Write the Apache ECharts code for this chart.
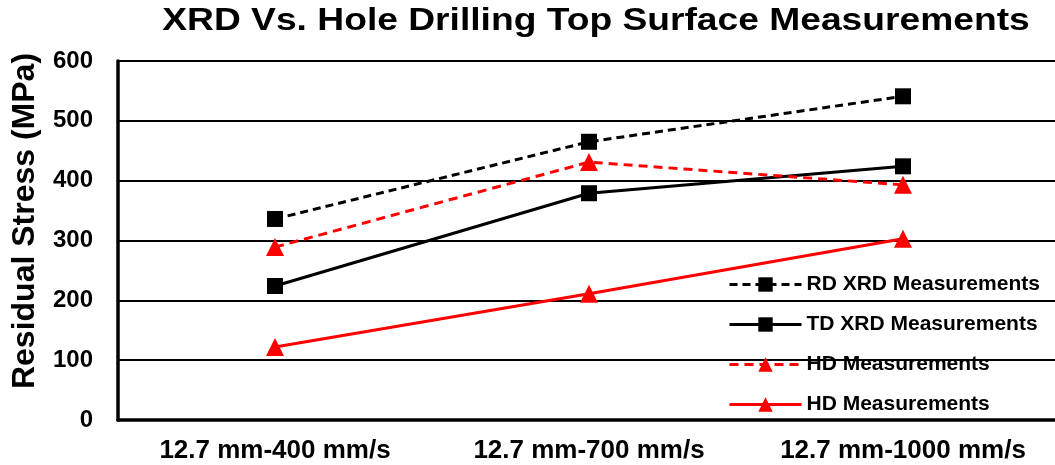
<!DOCTYPE html>
<html>
<head>
<meta charset="utf-8">
<script src="https://cdn.jsdelivr.net/npm/echarts@6/dist/echarts.min.js"></script>
<style>
  html, body { margin: 0; padding: 0; background: #fff; }
  #chart { width: 1055px; height: 465px; }
</style>
</head>
<body>
<div id="chart"></div>
<script>
// Process settings (layer thickness / scan speed)
const categories = ['12.7 mm-400 mm/s', '12.7 mm-700 mm/s', '12.7 mm-1000 mm/s'];

// Residual stress values, MPa
const rdXrd = [336, 465, 541];
const tdXrd = [224, 379, 424];
const hdDashed = [289, 431, 393];
const hdSolid = [122, 211, 303];

const seriesKeys = ['rd', 'td', 'hd1', 'hd2'];
const legendLabels = {
  rd: 'RD XRD Measurements',
  td: 'TD XRD Measurements',
  hd1: 'HD Measurements',
  hd2: 'HD Measurements'
};

const titleText = 'XRD Vs. Hole Drilling Top Surface Measurements';
const yAxisTitle = 'Residual Stress (MPa)';

const FONT = 'Liberation Sans, Arial, sans-serif';

const chart = echarts.init(document.getElementById('chart'));

function lineSeries(name, data, color, type, symbol, size) {
  return {
    name: name,
    type: 'line',
    data: data,
    symbol: symbol,
    symbolSize: size,
    itemStyle: { color: color },
    lineStyle: { color: color, width: 3, type: type },
    z: 5
  };
}

chart.setOption({
  animation: false,
  backgroundColor: '#ffffff',
  graphic: [
    {
      // wide bold heading, stretched horizontally
      type: 'text',
      x: 596,
      y: 21,
      scaleX: 1.2,
      style: {
        text: titleText,
        font: 'bold 31px ' + FONT,
        fill: '#000',
        textAlign: 'center',
        textVerticalAlign: 'middle'
      }
    },
    {
      // vertical value-axis title, sitting slightly above the plot's middle
      type: 'text',
      x: 25,
      y: 221,
      rotation: Math.PI / 2,
      style: {
        text: yAxisTitle,
        font: 'bold 32px ' + FONT,
        fill: '#000',
        textAlign: 'center',
        textVerticalAlign: 'middle'
      }
    }
  ],
  legend: {
    orient: 'vertical',
    left: 723,
    top: 269,
    itemWidth: 72,
    itemHeight: 18,
    itemGap: 19,
    data: seriesKeys,
    formatter: function (n) { return legendLabels[n]; },
    lineStyle: { width: 3 },
    textStyle: { fontFamily: FONT, fontWeight: 'bold', fontSize: 21, color: '#000' }
  },
  grid: {
    left: 118, top: 61, width: 942, height: 359,
    containLabel: false,
    outerBoundsMode: 'none'
  },
  xAxis: {
    type: 'category',
    data: categories,
    boundaryGap: true,
    axisLine: { lineStyle: { color: '#000', width: 3.5 } },
    axisTick: { show: false },
    axisLabel: { interval: 0, margin: 18, fontFamily: FONT, fontWeight: 'bold', fontSize: 26, color: '#000' }
  },
  yAxis: {
    type: 'value',
    min: 0,
    max: 600,
    interval: 100,
    axisLine: { show: true, lineStyle: { color: '#000', width: 3.5 } },
    axisTick: { show: false },
    axisLabel: { margin: 25, fontFamily: FONT, fontWeight: 'bold', fontSize: 24, color: '#000' },
    splitLine: { show: true, lineStyle: { color: '#000', width: 2 } }
  },
  series: [
    lineSeries('rd', rdXrd, '#000000', [8, 5], 'rect', 16),
    lineSeries('td', tdXrd, '#000000', 'solid', 'rect', 16),
    lineSeries('hd1', hdDashed, '#ff0000', [9, 6], 'triangle', 18),
    lineSeries('hd2', hdSolid, '#ff0000', 'solid', 'triangle', 18)
  ]
});
</script>
</body>
</html>
